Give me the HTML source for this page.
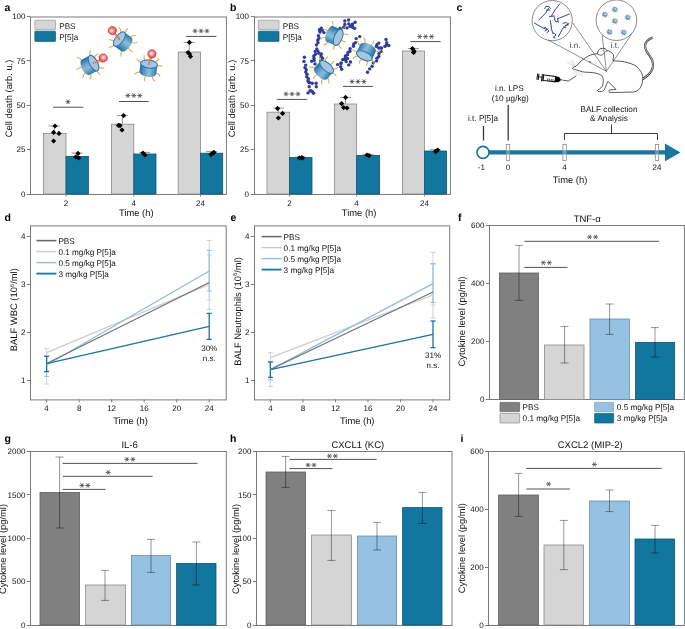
<!DOCTYPE html>
<html><head><meta charset="utf-8"><style>
html,body{margin:0;padding:0;background:#fff;}
svg{display:block;will-change:transform;}
text{font-family:"Liberation Sans",sans-serif;text-rendering:geometricPrecision;}
</style></head><body>
<svg width="685" height="629" viewBox="0 0 685 629">
<rect width="685" height="629" fill="#fff"/>
<defs>
<linearGradient id="cyl" x1="0" y1="0" x2="1" y2="0">
<stop offset="0" stop-color="#1f6fa3"/><stop offset="0.45" stop-color="#7fb0d3"/><stop offset="0.6" stop-color="#8db9d8"/><stop offset="1" stop-color="#2a7db0"/></linearGradient>
<radialGradient id="ball" cx="0.45" cy="0.45" r="0.6"><stop offset="0" stop-color="#fff"/><stop offset="0.35" stop-color="#f7a0a0"/><stop offset="1" stop-color="#e03a3a"/></radialGradient>
<g id="cylA">
<g stroke="#e9a237" stroke-width="1.0" fill="none" stroke-linecap="round">
<path d="M-8.3 -4.5 q-2.5 -0.5 -4.3 -2.6"/><path d="M-4.5 -7.3 q-1.8 -1.6 -1.6 -4.6"/><path d="M1.2 -8.2 q0.9 -2.2 0.3 -4.6"/><path d="M6 -7 q2.6 -1 3 -4"/><path d="M8.4 -3.2 q2.8 -1.2 4.6 -0.4"/>
<path d="M-8.6 5.2 q-2.6 0.4 -4 2.6"/><path d="M-2 9 q-0.9 2.2 -0.3 4.6"/><path d="M5 8.5 q1 2.6 3 3.6"/><path d="M8.6 3.8 q2.6 0.4 3.8 2.8"/>
</g>
<path d="M-8.5 -4 L-8.5 4.8 A8.5 4 0 0 0 8.5 4.8 L8.5 -4 Z" fill="url(#cyl)"/>
<ellipse cx="0" cy="-4" rx="8.5" ry="4" fill="#a9c5de" stroke="#1f78ad" stroke-width="1.0"/>
</g>
</defs><text x="4.6" y="11" font-size="10.5" text-anchor="start" font-weight="bold" fill="#000">a</text>
<text x="230" y="11" font-size="10.5" text-anchor="start" font-weight="bold" fill="#000">b</text>
<text x="456.4" y="11" font-size="10.5" text-anchor="start" font-weight="bold" fill="#000">c</text>
<text x="4.6" y="220.5" font-size="10.5" text-anchor="start" font-weight="bold" fill="#000">d</text>
<text x="230.5" y="220.5" font-size="10.5" text-anchor="start" font-weight="bold" fill="#000">e</text>
<text x="458" y="220.5" font-size="10.5" text-anchor="start" font-weight="bold" fill="#000">f</text>
<text x="4.6" y="442" font-size="10.5" text-anchor="start" font-weight="bold" fill="#000">g</text>
<text x="230" y="442" font-size="10.5" text-anchor="start" font-weight="bold" fill="#000">h</text>
<text x="460.5" y="442" font-size="10.5" text-anchor="start" font-weight="bold" fill="#000">i</text>
<rect x="30.5" y="17" width="195.9" height="177.5" fill="none" stroke="#7a7a7a" stroke-width="1"/>
<line x1="26.9" y1="16.5" x2="30.5" y2="16.5" stroke="#7a7a7a" stroke-width="1" />
<text x="25.5" y="19.35" font-size="8" text-anchor="end" fill="#111">100</text>
<line x1="26.9" y1="60.5" x2="30.5" y2="60.5" stroke="#7a7a7a" stroke-width="1" />
<text x="25.5" y="63.7" font-size="8" text-anchor="end" fill="#111">75</text>
<line x1="26.9" y1="105.5" x2="30.5" y2="105.5" stroke="#7a7a7a" stroke-width="1" />
<text x="25.5" y="108.05" font-size="8" text-anchor="end" fill="#111">50</text>
<line x1="26.9" y1="149.5" x2="30.5" y2="149.5" stroke="#7a7a7a" stroke-width="1" />
<text x="25.5" y="152.4" font-size="8" text-anchor="end" fill="#111">25</text>
<line x1="26.9" y1="194.5" x2="30.5" y2="194.5" stroke="#7a7a7a" stroke-width="1" />
<text x="25.5" y="196.75" font-size="8" text-anchor="end" fill="#111">0</text>
<rect x="43.5" y="133.4" width="22.5" height="60.6" fill="#d5d5d5" stroke="#8a8a8a" stroke-width="0.8"/>
<rect x="66" y="156.4" width="22.4" height="37.6" fill="#13769f" stroke="#0e5878" stroke-width="0.8"/>
<rect x="111.5" y="124.2" width="22.3" height="69.8" fill="#d5d5d5" stroke="#8a8a8a" stroke-width="0.8"/>
<rect x="133.8" y="154" width="22.2" height="40" fill="#13769f" stroke="#0e5878" stroke-width="0.8"/>
<rect x="178.2" y="52" width="22.3" height="142" fill="#d5d5d5" stroke="#8a8a8a" stroke-width="0.8"/>
<rect x="200.5" y="153.2" width="22.2" height="40.8" fill="#13769f" stroke="#0e5878" stroke-width="0.8"/>
<line x1="66" y1="194" x2="66" y2="196.5" stroke="#7a7a7a" stroke-width="1" />
<text x="66" y="206" font-size="8" text-anchor="middle" fill="#111">2</text>
<line x1="133.8" y1="194" x2="133.8" y2="196.5" stroke="#7a7a7a" stroke-width="1" />
<text x="133.8" y="206" font-size="8" text-anchor="middle" fill="#111">4</text>
<line x1="200.5" y1="194" x2="200.5" y2="196.5" stroke="#7a7a7a" stroke-width="1" />
<text x="200.5" y="206" font-size="8" text-anchor="middle" fill="#111">24</text>
<text x="136.3" y="216.2" font-size="9.4" text-anchor="middle" fill="#111">Time (h)</text>
<line x1="54.3" y1="126" x2="54.3" y2="133.4" stroke="#7a7a7a" stroke-width="0.8" />
<line x1="48.8" y1="126" x2="59.8" y2="126" stroke="#7a7a7a" stroke-width="0.8" />
<path d="M55 123.4L57.6 126L55 128.6L52.4 126Z" fill="#000"/>
<path d="M53.6 129.8L56.2 132.4L53.6 135L51 132.4Z" fill="#000"/>
<path d="M59 130.8L61.6 133.4L59 136L56.4 133.4Z" fill="#000"/>
<path d="M53.6 138.4L56.2 141L53.6 143.6L51 141Z" fill="#000"/>
<line x1="76.9" y1="153" x2="76.9" y2="156.4" stroke="#7a7a7a" stroke-width="0.8" />
<line x1="71.4" y1="153" x2="82.4" y2="153" stroke="#7a7a7a" stroke-width="0.8" />
<path d="M78 150.8L80.6 153.4L78 156L75.4 153.4Z" fill="#000"/>
<path d="M75.6 154.4L78.2 157L75.6 159.6L73 157Z" fill="#000"/>
<path d="M78.6 155.4L81.2 158L78.6 160.6L76 158Z" fill="#000"/>
<line x1="122.4" y1="115.6" x2="122.4" y2="124.2" stroke="#7a7a7a" stroke-width="0.8" />
<line x1="116.9" y1="115.6" x2="127.9" y2="115.6" stroke="#7a7a7a" stroke-width="0.8" />
<path d="M123.6 113L126.2 115.6L123.6 118.2L121 115.6Z" fill="#000"/>
<path d="M118.4 122.8L121 125.4L118.4 128L115.8 125.4Z" fill="#000"/>
<path d="M120 123L122.6 125.6L120 128.2L117.4 125.6Z" fill="#000"/>
<path d="M122 127.4L124.6 130L122 132.6L119.4 130Z" fill="#000"/>
<line x1="144.7" y1="152.4" x2="144.7" y2="154" stroke="#7a7a7a" stroke-width="0.8" />
<line x1="139.2" y1="152.4" x2="150.2" y2="152.4" stroke="#7a7a7a" stroke-width="0.8" />
<path d="M143 150.4L145.6 153L143 155.6L140.4 153Z" fill="#000"/>
<path d="M145 152.4L147.6 155L145 157.6L142.4 155Z" fill="#000"/>
<line x1="189.2" y1="42.4" x2="189.2" y2="52" stroke="#7a7a7a" stroke-width="0.8" />
<line x1="183.7" y1="42.4" x2="194.7" y2="42.4" stroke="#7a7a7a" stroke-width="0.8" />
<path d="M189.4 39.8L192 42.4L189.4 45L186.8 42.4Z" fill="#000"/>
<path d="M188 49.9L190.6 52.5L188 55.1L185.4 52.5Z" fill="#000"/>
<path d="M189.5 51.4L192.1 54L189.5 56.6L186.9 54Z" fill="#000"/>
<path d="M190.5 53.9L193.1 56.5L190.5 59.1L187.9 56.5Z" fill="#000"/>
<line x1="211.5" y1="151.6" x2="211.5" y2="153.2" stroke="#7a7a7a" stroke-width="0.8" />
<line x1="206" y1="151.6" x2="217" y2="151.6" stroke="#7a7a7a" stroke-width="0.8" />
<path d="M211 152L213.6 154.6L211 157.2L208.4 154.6Z" fill="#000"/>
<path d="M213 150.4L215.6 153L213 155.6L210.4 153Z" fill="#000"/>
<path d="M214 149.8L216.6 152.4L214 155L211.4 152.4Z" fill="#000"/>
<line x1="53" y1="107.2" x2="83.2" y2="107.2" stroke="#4a4a4a" stroke-width="0.95" />
<path d="M65.5 101.8L70.5 101.8M66.75 99.63L69.25 103.97M69.25 99.63L66.75 103.97" stroke="#4a4a4a" stroke-width="0.85" fill="none"/>
<line x1="119" y1="101.5" x2="148.6" y2="101.5" stroke="#4a4a4a" stroke-width="0.95" />
<path d="M125.35 95.6L130.35 95.6M126.6 93.43L129.1 97.77M129.1 93.43L126.6 97.77" stroke="#4a4a4a" stroke-width="0.85" fill="none"/>
<path d="M131.3 95.6L136.3 95.6M132.55 93.43L135.05 97.77M135.05 93.43L132.55 97.77" stroke="#4a4a4a" stroke-width="0.85" fill="none"/>
<path d="M137.25 95.6L142.25 95.6M138.5 93.43L141 97.77M141 93.43L138.5 97.77" stroke="#4a4a4a" stroke-width="0.85" fill="none"/>
<line x1="186" y1="36.4" x2="216.4" y2="36.4" stroke="#4a4a4a" stroke-width="0.95" />
<path d="M192.55 31L197.55 31M193.8 28.83L196.3 33.17M196.3 28.83L193.8 33.17" stroke="#4a4a4a" stroke-width="0.85" fill="none"/>
<path d="M198.5 31L203.5 31M199.75 28.83L202.25 33.17M202.25 28.83L199.75 33.17" stroke="#4a4a4a" stroke-width="0.85" fill="none"/>
<path d="M204.45 31L209.45 31M205.7 28.83L208.2 33.17M208.2 28.83L205.7 33.17" stroke="#4a4a4a" stroke-width="0.85" fill="none"/>
<rect x="34.8" y="20.2" width="20.7" height="9.5" fill="#d5d5d5" stroke="#999" stroke-width="0.7" rx="0.6"/>
<rect x="34.8" y="31.2" width="20.7" height="10.2" fill="#13769f" stroke="#0b5a7a" stroke-width="0.7" rx="0.6"/>
<text x="59.2" y="28.6" font-size="8.2" text-anchor="start" fill="#111">PBS</text>
<text x="59.2" y="39.7" font-size="8.2" text-anchor="start" fill="#111">P[5]a</text>
<text x="11.8" y="98.5" font-size="9.4" text-anchor="middle" fill="#111" transform="rotate(-90 11.8 98.5)">Cell death (arb. u.)</text>
<rect x="254.5" y="17" width="195.9" height="177.5" fill="none" stroke="#7a7a7a" stroke-width="1"/>
<line x1="250.9" y1="16.5" x2="254.5" y2="16.5" stroke="#7a7a7a" stroke-width="1" />
<text x="249" y="19.35" font-size="8" text-anchor="end" fill="#111">100</text>
<line x1="250.9" y1="60.5" x2="254.5" y2="60.5" stroke="#7a7a7a" stroke-width="1" />
<text x="249" y="63.7" font-size="8" text-anchor="end" fill="#111">75</text>
<line x1="250.9" y1="105.5" x2="254.5" y2="105.5" stroke="#7a7a7a" stroke-width="1" />
<text x="249" y="108.05" font-size="8" text-anchor="end" fill="#111">50</text>
<line x1="250.9" y1="149.5" x2="254.5" y2="149.5" stroke="#7a7a7a" stroke-width="1" />
<text x="249" y="152.4" font-size="8" text-anchor="end" fill="#111">25</text>
<line x1="250.9" y1="194.5" x2="254.5" y2="194.5" stroke="#7a7a7a" stroke-width="1" />
<text x="249" y="196.75" font-size="8" text-anchor="end" fill="#111">0</text>
<rect x="267" y="112.2" width="22.6" height="81.8" fill="#d5d5d5" stroke="#8a8a8a" stroke-width="0.8"/>
<rect x="289.6" y="157.4" width="22.4" height="36.6" fill="#13769f" stroke="#0e5878" stroke-width="0.8"/>
<rect x="334.4" y="104" width="22.2" height="90" fill="#d5d5d5" stroke="#8a8a8a" stroke-width="0.8"/>
<rect x="356.6" y="155.4" width="23" height="38.6" fill="#13769f" stroke="#0e5878" stroke-width="0.8"/>
<rect x="402.4" y="51" width="22" height="143" fill="#d5d5d5" stroke="#8a8a8a" stroke-width="0.8"/>
<rect x="424.4" y="151" width="22.2" height="43" fill="#13769f" stroke="#0e5878" stroke-width="0.8"/>
<line x1="289.6" y1="194" x2="289.6" y2="196.5" stroke="#7a7a7a" stroke-width="1" />
<text x="289.6" y="206" font-size="8" text-anchor="middle" fill="#111">2</text>
<line x1="356.6" y1="194" x2="356.6" y2="196.5" stroke="#7a7a7a" stroke-width="1" />
<text x="356.6" y="206" font-size="8" text-anchor="middle" fill="#111">4</text>
<line x1="424.4" y1="194" x2="424.4" y2="196.5" stroke="#7a7a7a" stroke-width="1" />
<text x="424.4" y="206" font-size="8" text-anchor="middle" fill="#111">24</text>
<text x="359.1" y="216.2" font-size="9.4" text-anchor="middle" fill="#111">Time (h)</text>
<line x1="278.3" y1="108" x2="278.3" y2="112.2" stroke="#7a7a7a" stroke-width="0.8" />
<line x1="272.8" y1="108" x2="283.8" y2="108" stroke="#7a7a7a" stroke-width="0.8" />
<path d="M277.6 105.8L280.2 108.4L277.6 111L275 108.4Z" fill="#000"/>
<path d="M282.6 110.8L285.2 113.4L282.6 116L280 113.4Z" fill="#000"/>
<path d="M278.4 115.4L281 118L278.4 120.6L275.8 118Z" fill="#000"/>
<line x1="300.8" y1="157" x2="300.8" y2="157.4" stroke="#7a7a7a" stroke-width="0.8" />
<line x1="295.3" y1="157" x2="306.3" y2="157" stroke="#7a7a7a" stroke-width="0.8" />
<path d="M299.4 155.4L302 158L299.4 160.6L296.8 158Z" fill="#000"/>
<path d="M301.6 155L304.2 157.6L301.6 160.2L299 157.6Z" fill="#000"/>
<path d="M302.6 155.4L305.2 158L302.6 160.6L300 158Z" fill="#000"/>
<line x1="345.5" y1="97.4" x2="345.5" y2="104" stroke="#7a7a7a" stroke-width="0.8" />
<line x1="340" y1="97.4" x2="351" y2="97.4" stroke="#7a7a7a" stroke-width="0.8" />
<path d="M345.6 94.8L348.2 97.4L345.6 100L343 97.4Z" fill="#000"/>
<path d="M341.6 101L344.2 103.6L341.6 106.2L339 103.6Z" fill="#000"/>
<path d="M343.6 105L346.2 107.6L343.6 110.2L341 107.6Z" fill="#000"/>
<path d="M347 105.4L349.6 108L347 110.6L344.4 108Z" fill="#000"/>
<line x1="368" y1="154.4" x2="368" y2="155.4" stroke="#7a7a7a" stroke-width="0.8" />
<line x1="362.5" y1="154.4" x2="373.5" y2="154.4" stroke="#7a7a7a" stroke-width="0.8" />
<path d="M367 152.4L369.6 155L367 157.6L364.4 155Z" fill="#000"/>
<path d="M369 153L371.6 155.6L369 158.2L366.4 155.6Z" fill="#000"/>
<line x1="413.4" y1="48.6" x2="413.4" y2="51" stroke="#7a7a7a" stroke-width="0.8" />
<line x1="407.9" y1="48.6" x2="418.9" y2="48.6" stroke="#7a7a7a" stroke-width="0.8" />
<path d="M412.4 46L415 48.6L412.4 51.2L409.8 48.6Z" fill="#000"/>
<path d="M414 48.4L416.6 51L414 53.6L411.4 51Z" fill="#000"/>
<path d="M413.6 49.8L416.2 52.4L413.6 55L411 52.4Z" fill="#000"/>
<line x1="435.5" y1="149.6" x2="435.5" y2="151" stroke="#7a7a7a" stroke-width="0.8" />
<line x1="430" y1="149.6" x2="441" y2="149.6" stroke="#7a7a7a" stroke-width="0.8" />
<path d="M435.6 149L438.2 151.6L435.6 154.2L433 151.6Z" fill="#000"/>
<path d="M437.6 147.4L440.2 150L437.6 152.6L435 150Z" fill="#000"/>
<path d="M436.4 148.4L439 151L436.4 153.6L433.8 151Z" fill="#000"/>
<line x1="277" y1="99.4" x2="307" y2="99.4" stroke="#4a4a4a" stroke-width="0.95" />
<path d="M283.55 94L288.55 94M284.8 91.83L287.3 96.17M287.3 91.83L284.8 96.17" stroke="#4a4a4a" stroke-width="0.85" fill="none"/>
<path d="M289.5 94L294.5 94M290.75 91.83L293.25 96.17M293.25 91.83L290.75 96.17" stroke="#4a4a4a" stroke-width="0.85" fill="none"/>
<path d="M295.45 94L300.45 94M296.7 91.83L299.2 96.17M299.2 91.83L296.7 96.17" stroke="#4a4a4a" stroke-width="0.85" fill="none"/>
<line x1="343" y1="86.4" x2="373" y2="86.4" stroke="#4a4a4a" stroke-width="0.95" />
<path d="M349.55 81.6L354.55 81.6M350.8 79.43L353.3 83.77M353.3 79.43L350.8 83.77" stroke="#4a4a4a" stroke-width="0.85" fill="none"/>
<path d="M355.5 81.6L360.5 81.6M356.75 79.43L359.25 83.77M359.25 79.43L356.75 83.77" stroke="#4a4a4a" stroke-width="0.85" fill="none"/>
<path d="M361.45 81.6L366.45 81.6M362.7 79.43L365.2 83.77M365.2 79.43L362.7 83.77" stroke="#4a4a4a" stroke-width="0.85" fill="none"/>
<line x1="410.4" y1="41.6" x2="440.6" y2="41.6" stroke="#4a4a4a" stroke-width="0.95" />
<path d="M417.15 36.6L422.15 36.6M418.4 34.43L420.9 38.77M420.9 34.43L418.4 38.77" stroke="#4a4a4a" stroke-width="0.85" fill="none"/>
<path d="M423.1 36.6L428.1 36.6M424.35 34.43L426.85 38.77M426.85 34.43L424.35 38.77" stroke="#4a4a4a" stroke-width="0.85" fill="none"/>
<path d="M429.05 36.6L434.05 36.6M430.3 34.43L432.8 38.77M432.8 34.43L430.3 38.77" stroke="#4a4a4a" stroke-width="0.85" fill="none"/>
<rect x="258.3" y="20.2" width="20.7" height="9.5" fill="#d5d5d5" stroke="#999" stroke-width="0.7" rx="0.6"/>
<rect x="258.3" y="31.2" width="20.7" height="10.2" fill="#13769f" stroke="#0b5a7a" stroke-width="0.7" rx="0.6"/>
<text x="282.7" y="28.6" font-size="8.2" text-anchor="start" fill="#111">PBS</text>
<text x="282.7" y="39.7" font-size="8.2" text-anchor="start" fill="#111">P[5]a</text>
<text x="235.3" y="98.5" font-size="9.4" text-anchor="middle" fill="#111" transform="rotate(-90 235.3 98.5)">Cell death (arb. u.)</text>
<rect x="30.5" y="225.9" width="195.7" height="174" fill="none" stroke="#7a7a7a" stroke-width="1"/>
<line x1="26.9" y1="236.5" x2="30.5" y2="236.5" stroke="#7a7a7a" stroke-width="1" />
<text x="25.4" y="238.75" font-size="8" text-anchor="end" fill="#111">4</text>
<line x1="26.9" y1="284.5" x2="30.5" y2="284.5" stroke="#7a7a7a" stroke-width="1" />
<text x="25.4" y="286.75" font-size="8" text-anchor="end" fill="#111">3</text>
<line x1="26.9" y1="332.5" x2="30.5" y2="332.5" stroke="#7a7a7a" stroke-width="1" />
<text x="25.4" y="334.75" font-size="8" text-anchor="end" fill="#111">2</text>
<line x1="26.9" y1="380.5" x2="30.5" y2="380.5" stroke="#7a7a7a" stroke-width="1" />
<text x="25.4" y="382.75" font-size="8" text-anchor="end" fill="#111">1</text>
<line x1="46.6" y1="399.4" x2="46.6" y2="402.4" stroke="#7a7a7a" stroke-width="1" />
<text x="46.6" y="411" font-size="8" text-anchor="middle" fill="#111">4</text>
<line x1="79.12" y1="399.4" x2="79.12" y2="402.4" stroke="#7a7a7a" stroke-width="1" />
<text x="79.12" y="411" font-size="8" text-anchor="middle" fill="#111">8</text>
<line x1="111.64" y1="399.4" x2="111.64" y2="402.4" stroke="#7a7a7a" stroke-width="1" />
<text x="111.64" y="411" font-size="8" text-anchor="middle" fill="#111">12</text>
<line x1="144.16" y1="399.4" x2="144.16" y2="402.4" stroke="#7a7a7a" stroke-width="1" />
<text x="144.16" y="411" font-size="8" text-anchor="middle" fill="#111">16</text>
<line x1="176.68" y1="399.4" x2="176.68" y2="402.4" stroke="#7a7a7a" stroke-width="1" />
<text x="176.68" y="411" font-size="8" text-anchor="middle" fill="#111">20</text>
<line x1="209.2" y1="399.4" x2="209.2" y2="402.4" stroke="#7a7a7a" stroke-width="1" />
<text x="209.2" y="411" font-size="8" text-anchor="middle" fill="#111">24</text>
<text x="130.5" y="423.8" font-size="9.4" text-anchor="middle" fill="#111">Time (h)</text>
<line x1="46.6" y1="348.6" x2="46.6" y2="384" stroke="#d0d0d0" stroke-width="1" />
<line x1="44.1" y1="348.6" x2="49.1" y2="348.6" stroke="#d0d0d0" stroke-width="1" />
<line x1="44.1" y1="384" x2="49.1" y2="384" stroke="#d0d0d0" stroke-width="1" />
<line x1="46.6" y1="356" x2="46.6" y2="376.4" stroke="#8cbfe4" stroke-width="1" />
<line x1="44.1" y1="356" x2="49.1" y2="356" stroke="#8cbfe4" stroke-width="1" />
<line x1="44.1" y1="376.4" x2="49.1" y2="376.4" stroke="#8cbfe4" stroke-width="1" />
<line x1="46.6" y1="356.4" x2="46.6" y2="371.6" stroke="#1a74a0" stroke-width="1.3" />
<line x1="44.1" y1="356.4" x2="49.1" y2="356.4" stroke="#1a74a0" stroke-width="1.3" />
<line x1="44.1" y1="371.6" x2="49.1" y2="371.6" stroke="#1a74a0" stroke-width="1.3" />
<line x1="209.2" y1="240.4" x2="209.2" y2="309.4" stroke="#d0d0d0" stroke-width="1" />
<line x1="206.7" y1="240.4" x2="211.7" y2="240.4" stroke="#d0d0d0" stroke-width="1" />
<line x1="206.7" y1="309.4" x2="211.7" y2="309.4" stroke="#d0d0d0" stroke-width="1" />
<line x1="209.2" y1="255" x2="209.2" y2="300" stroke="#d8d8d8" stroke-width="1" />
<line x1="206.7" y1="255" x2="211.7" y2="255" stroke="#d8d8d8" stroke-width="1" />
<line x1="206.7" y1="300" x2="211.7" y2="300" stroke="#d8d8d8" stroke-width="1" />
<line x1="209.2" y1="250.4" x2="209.2" y2="291" stroke="#8cbfe4" stroke-width="1" />
<line x1="206.7" y1="250.4" x2="211.7" y2="250.4" stroke="#8cbfe4" stroke-width="1" />
<line x1="206.7" y1="291" x2="211.7" y2="291" stroke="#8cbfe4" stroke-width="1" />
<line x1="209.2" y1="313.4" x2="209.2" y2="339.4" stroke="#1a74a0" stroke-width="1.3" />
<line x1="206.7" y1="313.4" x2="211.7" y2="313.4" stroke="#1a74a0" stroke-width="1.3" />
<line x1="206.7" y1="339.4" x2="211.7" y2="339.4" stroke="#1a74a0" stroke-width="1.3" />
<line x1="46.6" y1="352.6" x2="209.2" y2="284.4" stroke="#cccccc" stroke-width="1.25" />
<line x1="46.6" y1="365" x2="209.2" y2="271" stroke="#8cbfe4" stroke-width="1.25" />
<line x1="46.6" y1="363.6" x2="209.2" y2="282.4" stroke="#707070" stroke-width="1.15" />
<line x1="46.6" y1="363.6" x2="209.2" y2="326.4" stroke="#1a74a0" stroke-width="1.3" />
<line x1="36.4" y1="240.6" x2="56.4" y2="240.6" stroke="#6b6b6b" stroke-width="1.6" />
<text x="58.4" y="243.5" font-size="8.2" text-anchor="start" fill="#111">PBS</text>
<line x1="36.4" y1="251.6" x2="56.4" y2="251.6" stroke="#cccccc" stroke-width="1.4" />
<text x="58.4" y="254.5" font-size="8.2" text-anchor="start" fill="#111">0.1 mg/kg P[5]a</text>
<line x1="36.4" y1="262.6" x2="56.4" y2="262.6" stroke="#8cbfe4" stroke-width="1.4" />
<text x="58.4" y="265.5" font-size="8.2" text-anchor="start" fill="#111">0.5 mg/kg P[5]a</text>
<line x1="36.4" y1="273.6" x2="56.4" y2="273.6" stroke="#1a74a0" stroke-width="1.8" />
<text x="58.4" y="276.5" font-size="8.2" text-anchor="start" fill="#111">3 mg/kg P[5]a</text>
<text x="209.2" y="351.4" font-size="8" text-anchor="middle" fill="#111">30%</text>
<text x="209.2" y="360.9" font-size="8" text-anchor="middle" fill="#111">n.s.</text>
<text x="17.3" y="309.7" font-size="9.4" text-anchor="middle" fill="#111" transform="rotate(-90 17.3 309.7)">BALF WBC (10<tspan font-size="6" dy="-3.2">6</tspan><tspan dy="3.2">/ml)</tspan></text>
<rect x="254.5" y="225.9" width="195.2" height="174" fill="none" stroke="#7a7a7a" stroke-width="1"/>
<line x1="250.9" y1="236.5" x2="254.5" y2="236.5" stroke="#7a7a7a" stroke-width="1" />
<text x="249.4" y="238.75" font-size="8" text-anchor="end" fill="#111">4</text>
<line x1="250.9" y1="284.5" x2="254.5" y2="284.5" stroke="#7a7a7a" stroke-width="1" />
<text x="249.4" y="286.75" font-size="8" text-anchor="end" fill="#111">3</text>
<line x1="250.9" y1="332.5" x2="254.5" y2="332.5" stroke="#7a7a7a" stroke-width="1" />
<text x="249.4" y="334.75" font-size="8" text-anchor="end" fill="#111">2</text>
<line x1="250.9" y1="380.5" x2="254.5" y2="380.5" stroke="#7a7a7a" stroke-width="1" />
<text x="249.4" y="382.75" font-size="8" text-anchor="end" fill="#111">1</text>
<line x1="270.4" y1="399.4" x2="270.4" y2="402.4" stroke="#7a7a7a" stroke-width="1" />
<text x="270.4" y="411" font-size="8" text-anchor="middle" fill="#111">4</text>
<line x1="302.92" y1="399.4" x2="302.92" y2="402.4" stroke="#7a7a7a" stroke-width="1" />
<text x="302.92" y="411" font-size="8" text-anchor="middle" fill="#111">8</text>
<line x1="335.44" y1="399.4" x2="335.44" y2="402.4" stroke="#7a7a7a" stroke-width="1" />
<text x="335.44" y="411" font-size="8" text-anchor="middle" fill="#111">12</text>
<line x1="367.96" y1="399.4" x2="367.96" y2="402.4" stroke="#7a7a7a" stroke-width="1" />
<text x="367.96" y="411" font-size="8" text-anchor="middle" fill="#111">16</text>
<line x1="400.48" y1="399.4" x2="400.48" y2="402.4" stroke="#7a7a7a" stroke-width="1" />
<text x="400.48" y="411" font-size="8" text-anchor="middle" fill="#111">20</text>
<line x1="433" y1="399.4" x2="433" y2="402.4" stroke="#7a7a7a" stroke-width="1" />
<text x="433" y="411" font-size="8" text-anchor="middle" fill="#111">24</text>
<text x="357.2" y="423.8" font-size="9.4" text-anchor="middle" fill="#111">Time (h)</text>
<line x1="270.4" y1="352.6" x2="270.4" y2="386.6" stroke="#d0d0d0" stroke-width="1" />
<line x1="267.9" y1="352.6" x2="272.9" y2="352.6" stroke="#d0d0d0" stroke-width="1" />
<line x1="267.9" y1="386.6" x2="272.9" y2="386.6" stroke="#d0d0d0" stroke-width="1" />
<line x1="270.4" y1="362" x2="270.4" y2="380" stroke="#8cbfe4" stroke-width="1" />
<line x1="267.9" y1="362" x2="272.9" y2="362" stroke="#8cbfe4" stroke-width="1" />
<line x1="267.9" y1="380" x2="272.9" y2="380" stroke="#8cbfe4" stroke-width="1" />
<line x1="270.4" y1="362" x2="270.4" y2="377.4" stroke="#1a74a0" stroke-width="1.3" />
<line x1="267.9" y1="362" x2="272.9" y2="362" stroke="#1a74a0" stroke-width="1.3" />
<line x1="267.9" y1="377.4" x2="272.9" y2="377.4" stroke="#1a74a0" stroke-width="1.3" />
<line x1="433" y1="252.4" x2="433" y2="318" stroke="#d0d0d0" stroke-width="1" />
<line x1="430.5" y1="252.4" x2="435.5" y2="252.4" stroke="#d0d0d0" stroke-width="1" />
<line x1="430.5" y1="318" x2="435.5" y2="318" stroke="#d0d0d0" stroke-width="1" />
<line x1="433" y1="264.4" x2="433" y2="305" stroke="#d8d8d8" stroke-width="1" />
<line x1="430.5" y1="264.4" x2="435.5" y2="264.4" stroke="#d8d8d8" stroke-width="1" />
<line x1="430.5" y1="305" x2="435.5" y2="305" stroke="#d8d8d8" stroke-width="1" />
<line x1="433" y1="263.6" x2="433" y2="302.4" stroke="#8cbfe4" stroke-width="1" />
<line x1="430.5" y1="263.6" x2="435.5" y2="263.6" stroke="#8cbfe4" stroke-width="1" />
<line x1="430.5" y1="302.4" x2="435.5" y2="302.4" stroke="#8cbfe4" stroke-width="1" />
<line x1="433" y1="321" x2="433" y2="347.6" stroke="#1a74a0" stroke-width="1.3" />
<line x1="430.5" y1="321" x2="435.5" y2="321" stroke="#1a74a0" stroke-width="1.3" />
<line x1="430.5" y1="347.6" x2="435.5" y2="347.6" stroke="#1a74a0" stroke-width="1.3" />
<line x1="270.4" y1="357.6" x2="433" y2="295" stroke="#cccccc" stroke-width="1.25" />
<line x1="270.4" y1="369.6" x2="433" y2="283.6" stroke="#8cbfe4" stroke-width="1.25" />
<line x1="270.4" y1="369.6" x2="433" y2="292" stroke="#707070" stroke-width="1.15" />
<line x1="270.4" y1="369.6" x2="433" y2="334.4" stroke="#1a74a0" stroke-width="1.3" />
<line x1="261.6" y1="236.6" x2="281.6" y2="236.6" stroke="#6b6b6b" stroke-width="1.6" />
<text x="283.6" y="239.5" font-size="8.2" text-anchor="start" fill="#111">PBS</text>
<line x1="261.6" y1="247.6" x2="281.6" y2="247.6" stroke="#cccccc" stroke-width="1.4" />
<text x="283.6" y="250.5" font-size="8.2" text-anchor="start" fill="#111">0.1 mg/kg P[5]a</text>
<line x1="261.6" y1="258.6" x2="281.6" y2="258.6" stroke="#8cbfe4" stroke-width="1.4" />
<text x="283.6" y="261.5" font-size="8.2" text-anchor="start" fill="#111">0.5 mg/kg P[5]a</text>
<line x1="261.6" y1="269.6" x2="281.6" y2="269.6" stroke="#1a74a0" stroke-width="1.8" />
<text x="283.6" y="272.5" font-size="8.2" text-anchor="start" fill="#111">3 mg/kg P[5]a</text>
<text x="433" y="358.4" font-size="8" text-anchor="middle" fill="#111">31%</text>
<text x="433" y="367.9" font-size="8" text-anchor="middle" fill="#111">n.s.</text>
<text x="240.6" y="311.4" font-size="9.4" text-anchor="middle" fill="#111" transform="rotate(-90 240.6 311.4)">BALF Neutrophils (10<tspan font-size="6" dy="-3.2">6</tspan><tspan dy="3.2">/ml)</tspan></text>
<rect x="489.5" y="225.5" width="194.9" height="174" fill="none" stroke="#7a7a7a" stroke-width="1"/>
<line x1="485.9" y1="225.5" x2="489.5" y2="225.5" stroke="#7a7a7a" stroke-width="1" />
<text x="484.4" y="228.15" font-size="8" text-anchor="end" fill="#111">600</text>
<line x1="485.9" y1="283.5" x2="489.5" y2="283.5" stroke="#7a7a7a" stroke-width="1" />
<text x="484.4" y="286.15" font-size="8" text-anchor="end" fill="#111">400</text>
<line x1="485.9" y1="341.5" x2="489.5" y2="341.5" stroke="#7a7a7a" stroke-width="1" />
<text x="484.4" y="344.15" font-size="8" text-anchor="end" fill="#111">200</text>
<line x1="485.9" y1="399.5" x2="489.5" y2="399.5" stroke="#7a7a7a" stroke-width="1" />
<text x="484.4" y="402.15" font-size="8" text-anchor="end" fill="#111">0</text>
<rect x="499.4" y="273" width="39" height="126.4" fill="#808080" stroke="#5f5f5f" stroke-width="0.8"/>
<rect x="544.4" y="345" width="39.6" height="54.4" fill="#d5d5d5" stroke="#8a8a8a" stroke-width="0.8"/>
<rect x="590" y="319" width="39.4" height="80.4" fill="#95c2e2" stroke="#6f8ea3" stroke-width="0.8"/>
<rect x="635.4" y="342.4" width="39.2" height="57" fill="#13769f" stroke="#0d5878" stroke-width="0.8"/>
<line x1="519" y1="245.4" x2="519" y2="300.4" stroke="rgba(0,0,0,0.52)" stroke-width="0.8" />
<line x1="515" y1="245.4" x2="523" y2="245.4" stroke="rgba(0,0,0,0.52)" stroke-width="0.8" />
<line x1="515" y1="300.4" x2="523" y2="300.4" stroke="rgba(0,0,0,0.52)" stroke-width="0.8" />
<line x1="564.6" y1="326.4" x2="564.6" y2="363" stroke="rgba(0,0,0,0.52)" stroke-width="0.8" />
<line x1="560.6" y1="326.4" x2="568.6" y2="326.4" stroke="rgba(0,0,0,0.52)" stroke-width="0.8" />
<line x1="560.6" y1="363" x2="568.6" y2="363" stroke="rgba(0,0,0,0.52)" stroke-width="0.8" />
<line x1="609.6" y1="304" x2="609.6" y2="334.4" stroke="rgba(0,0,0,0.52)" stroke-width="0.8" />
<line x1="605.6" y1="304" x2="613.6" y2="304" stroke="rgba(0,0,0,0.52)" stroke-width="0.8" />
<line x1="605.6" y1="334.4" x2="613.6" y2="334.4" stroke="rgba(0,0,0,0.52)" stroke-width="0.8" />
<line x1="655" y1="327.6" x2="655" y2="357" stroke="rgba(0,0,0,0.52)" stroke-width="0.8" />
<line x1="651" y1="327.6" x2="659" y2="327.6" stroke="rgba(0,0,0,0.52)" stroke-width="0.8" />
<line x1="651" y1="357" x2="659" y2="357" stroke="rgba(0,0,0,0.52)" stroke-width="0.8" />
<line x1="524.4" y1="267.4" x2="567.6" y2="267.4" stroke="#4a4a4a" stroke-width="0.95" />
<path d="M540.92 262.7L545.92 262.7M542.17 260.53L544.67 264.87M544.67 260.53L542.17 264.87" stroke="#4a4a4a" stroke-width="0.85" fill="none"/>
<path d="M546.88 262.7L551.88 262.7M548.12 260.53L550.62 264.87M550.62 260.53L548.12 264.87" stroke="#4a4a4a" stroke-width="0.85" fill="none"/>
<line x1="524.4" y1="241.3" x2="659" y2="241.3" stroke="#4a4a4a" stroke-width="0.95" />
<path d="M587.12 237L592.12 237M588.38 234.83L590.88 239.17M590.88 234.83L588.38 239.17" stroke="#4a4a4a" stroke-width="0.85" fill="none"/>
<path d="M593.08 237L598.08 237M594.33 234.83L596.83 239.17M596.83 234.83L594.33 239.17" stroke="#4a4a4a" stroke-width="0.85" fill="none"/>
<text x="587.2" y="222.1" font-size="9.5" text-anchor="middle" fill="#111">TNF-α</text>
<text x="465" y="321.5" font-size="9.4" text-anchor="middle" fill="#111" transform="rotate(-90 465 321.5)">Cytokine level (pg/ml)</text>
<rect x="500" y="402.4" width="19.6" height="9.2" fill="#808080" stroke="#5f5f5f" stroke-width="0.7" rx="0.4"/>
<rect x="500" y="413.4" width="19.6" height="9.6" fill="#d5d5d5" stroke="#8a8a8a" stroke-width="0.7" rx="0.4"/>
<rect x="594.6" y="402.4" width="19" height="9.2" fill="#95c2e2" stroke="#8a9aa6" stroke-width="0.7" rx="0.4"/>
<rect x="594.6" y="413.4" width="19" height="9.6" fill="#13769f" stroke="#0d5878" stroke-width="0.7" rx="0.4"/>
<text x="522.6" y="410.3" font-size="8.2" text-anchor="start" fill="#111">PBS</text>
<text x="522.6" y="421.3" font-size="8.2" text-anchor="start" fill="#111">0.1 mg/kg P[5]a</text>
<text x="616.8" y="410.3" font-size="8.2" text-anchor="start" fill="#111">0.5 mg/kg P[5]a</text>
<text x="616.8" y="421.3" font-size="8.2" text-anchor="start" fill="#111">3 mg/kg P[5]a</text>
<rect x="30.5" y="451.5" width="195.8" height="174" fill="none" stroke="#7a7a7a" stroke-width="1"/>
<line x1="26.9" y1="451.5" x2="30.5" y2="451.5" stroke="#7a7a7a" stroke-width="1" />
<text x="25.4" y="454.15" font-size="8" text-anchor="end" fill="#111">2000</text>
<line x1="26.9" y1="494.5" x2="30.5" y2="494.5" stroke="#7a7a7a" stroke-width="1" />
<text x="25.4" y="497.55" font-size="8" text-anchor="end" fill="#111">1500</text>
<line x1="26.9" y1="538.5" x2="30.5" y2="538.5" stroke="#7a7a7a" stroke-width="1" />
<text x="25.4" y="540.95" font-size="8" text-anchor="end" fill="#111">1000</text>
<line x1="26.9" y1="581.5" x2="30.5" y2="581.5" stroke="#7a7a7a" stroke-width="1" />
<text x="25.4" y="584.35" font-size="8" text-anchor="end" fill="#111">500</text>
<line x1="26.9" y1="625.5" x2="30.5" y2="625.5" stroke="#7a7a7a" stroke-width="1" />
<text x="25.4" y="627.75" font-size="8" text-anchor="end" fill="#111">0</text>
<rect x="40" y="492.4" width="39.6" height="132.6" fill="#808080" stroke="#5f5f5f" stroke-width="0.8"/>
<rect x="85.6" y="585" width="39.8" height="40" fill="#d5d5d5" stroke="#8a8a8a" stroke-width="0.8"/>
<rect x="131.4" y="555.6" width="39.2" height="69.4" fill="#95c2e2" stroke="#6f8ea3" stroke-width="0.8"/>
<rect x="176.6" y="563.4" width="39.4" height="61.6" fill="#13769f" stroke="#0d5878" stroke-width="0.8"/>
<line x1="59.6" y1="457" x2="59.6" y2="528" stroke="rgba(0,0,0,0.52)" stroke-width="0.8" />
<line x1="55.6" y1="457" x2="63.6" y2="457" stroke="rgba(0,0,0,0.52)" stroke-width="0.8" />
<line x1="55.6" y1="528" x2="63.6" y2="528" stroke="rgba(0,0,0,0.52)" stroke-width="0.8" />
<line x1="105" y1="570.4" x2="105" y2="600.4" stroke="rgba(0,0,0,0.52)" stroke-width="0.8" />
<line x1="101" y1="570.4" x2="109" y2="570.4" stroke="rgba(0,0,0,0.52)" stroke-width="0.8" />
<line x1="101" y1="600.4" x2="109" y2="600.4" stroke="rgba(0,0,0,0.52)" stroke-width="0.8" />
<line x1="151" y1="539.4" x2="151" y2="572.4" stroke="rgba(0,0,0,0.52)" stroke-width="0.8" />
<line x1="147" y1="539.4" x2="155" y2="539.4" stroke="rgba(0,0,0,0.52)" stroke-width="0.8" />
<line x1="147" y1="572.4" x2="155" y2="572.4" stroke="rgba(0,0,0,0.52)" stroke-width="0.8" />
<line x1="196.4" y1="542" x2="196.4" y2="585" stroke="rgba(0,0,0,0.52)" stroke-width="0.8" />
<line x1="192.4" y1="542" x2="200.4" y2="542" stroke="rgba(0,0,0,0.52)" stroke-width="0.8" />
<line x1="192.4" y1="585" x2="200.4" y2="585" stroke="rgba(0,0,0,0.52)" stroke-width="0.8" />
<line x1="62.6" y1="489.4" x2="105.6" y2="489.4" stroke="#4a4a4a" stroke-width="0.95" />
<path d="M79.43 485.4L84.43 485.4M80.68 483.23L83.18 487.57M83.18 483.23L80.68 487.57" stroke="#4a4a4a" stroke-width="0.85" fill="none"/>
<path d="M85.38 485.4L90.38 485.4M86.62 483.23L89.12 487.57M89.12 483.23L86.62 487.57" stroke="#4a4a4a" stroke-width="0.85" fill="none"/>
<line x1="62.6" y1="476.3" x2="152.6" y2="476.3" stroke="#4a4a4a" stroke-width="0.95" />
<path d="M105.7 472.4L110.7 472.4M106.95 470.23L109.45 474.57M109.45 470.23L106.95 474.57" stroke="#4a4a4a" stroke-width="0.85" fill="none"/>
<line x1="62.6" y1="463.4" x2="197.6" y2="463.4" stroke="#4a4a4a" stroke-width="0.95" />
<path d="M124.43 459.3L129.43 459.3M125.68 457.13L128.18 461.47M128.18 457.13L125.68 461.47" stroke="#4a4a4a" stroke-width="0.85" fill="none"/>
<path d="M130.38 459.3L135.38 459.3M131.62 457.13L134.12 461.47M134.12 457.13L131.62 461.47" stroke="#4a4a4a" stroke-width="0.85" fill="none"/>
<text x="129.6" y="447.7" font-size="9.5" text-anchor="middle" fill="#111">IL-6</text>
<text x="6.4" y="549" font-size="9.4" text-anchor="middle" fill="#111" transform="rotate(-90 6.4 549)">Cytokine level (pg/ml)</text>
<rect x="256.5" y="451.5" width="195.5" height="174" fill="none" stroke="#7a7a7a" stroke-width="1"/>
<line x1="252.9" y1="451.5" x2="256.5" y2="451.5" stroke="#7a7a7a" stroke-width="1" />
<text x="251.4" y="454.15" font-size="8" text-anchor="end" fill="#111">200</text>
<line x1="252.9" y1="494.5" x2="256.5" y2="494.5" stroke="#7a7a7a" stroke-width="1" />
<text x="251.4" y="497.55" font-size="8" text-anchor="end" fill="#111">150</text>
<line x1="252.9" y1="538.5" x2="256.5" y2="538.5" stroke="#7a7a7a" stroke-width="1" />
<text x="251.4" y="540.95" font-size="8" text-anchor="end" fill="#111">100</text>
<line x1="252.9" y1="581.5" x2="256.5" y2="581.5" stroke="#7a7a7a" stroke-width="1" />
<text x="251.4" y="584.35" font-size="8" text-anchor="end" fill="#111">50</text>
<line x1="252.9" y1="625.5" x2="256.5" y2="625.5" stroke="#7a7a7a" stroke-width="1" />
<text x="251.4" y="627.75" font-size="8" text-anchor="end" fill="#111">0</text>
<rect x="266" y="472" width="39.6" height="153" fill="#808080" stroke="#5f5f5f" stroke-width="0.8"/>
<rect x="311.6" y="535" width="39.8" height="90" fill="#d5d5d5" stroke="#8a8a8a" stroke-width="0.8"/>
<rect x="357.4" y="536" width="39.2" height="89" fill="#95c2e2" stroke="#6f8ea3" stroke-width="0.8"/>
<rect x="402.6" y="507.6" width="39.4" height="117.4" fill="#13769f" stroke="#0d5878" stroke-width="0.8"/>
<line x1="285.6" y1="456.4" x2="285.6" y2="487.4" stroke="rgba(0,0,0,0.52)" stroke-width="0.8" />
<line x1="281.6" y1="456.4" x2="289.6" y2="456.4" stroke="rgba(0,0,0,0.52)" stroke-width="0.8" />
<line x1="281.6" y1="487.4" x2="289.6" y2="487.4" stroke="rgba(0,0,0,0.52)" stroke-width="0.8" />
<line x1="331.4" y1="510.4" x2="331.4" y2="560.4" stroke="rgba(0,0,0,0.52)" stroke-width="0.8" />
<line x1="327.4" y1="510.4" x2="335.4" y2="510.4" stroke="rgba(0,0,0,0.52)" stroke-width="0.8" />
<line x1="327.4" y1="560.4" x2="335.4" y2="560.4" stroke="rgba(0,0,0,0.52)" stroke-width="0.8" />
<line x1="377" y1="522.4" x2="377" y2="550" stroke="rgba(0,0,0,0.52)" stroke-width="0.8" />
<line x1="373" y1="522.4" x2="381" y2="522.4" stroke="rgba(0,0,0,0.52)" stroke-width="0.8" />
<line x1="373" y1="550" x2="381" y2="550" stroke="rgba(0,0,0,0.52)" stroke-width="0.8" />
<line x1="422.4" y1="492.4" x2="422.4" y2="523.4" stroke="rgba(0,0,0,0.52)" stroke-width="0.8" />
<line x1="418.4" y1="492.4" x2="426.4" y2="492.4" stroke="rgba(0,0,0,0.52)" stroke-width="0.8" />
<line x1="418.4" y1="523.4" x2="426.4" y2="523.4" stroke="rgba(0,0,0,0.52)" stroke-width="0.8" />
<line x1="289.4" y1="468.6" x2="332.4" y2="468.6" stroke="#4a4a4a" stroke-width="0.95" />
<path d="M305.52 465L310.52 465M306.77 462.83L309.27 467.17M309.27 462.83L306.77 467.17" stroke="#4a4a4a" stroke-width="0.85" fill="none"/>
<path d="M311.48 465L316.48 465M312.73 462.83L315.23 467.17M315.23 462.83L312.73 467.17" stroke="#4a4a4a" stroke-width="0.85" fill="none"/>
<line x1="289.4" y1="459.4" x2="376.6" y2="459.4" stroke="#4a4a4a" stroke-width="0.95" />
<path d="M326.92 456L331.92 456M328.17 453.83L330.67 458.17M330.67 453.83L328.17 458.17" stroke="#4a4a4a" stroke-width="0.85" fill="none"/>
<path d="M332.88 456L337.88 456M334.12 453.83L336.62 458.17M336.62 453.83L334.12 458.17" stroke="#4a4a4a" stroke-width="0.85" fill="none"/>
<text x="357.8" y="447.7" font-size="9.5" text-anchor="middle" fill="#111">CXCL1 (KC)</text>
<text x="239" y="549" font-size="9.4" text-anchor="middle" fill="#111" transform="rotate(-90 239 549)">Cytokine level (pg/ml)</text>
<rect x="488.5" y="451.5" width="195.9" height="174" fill="none" stroke="#7a7a7a" stroke-width="1"/>
<line x1="484.9" y1="451.5" x2="488.5" y2="451.5" stroke="#7a7a7a" stroke-width="1" />
<text x="483.6" y="453.75" font-size="8" text-anchor="end" fill="#111">600</text>
<line x1="484.9" y1="509.5" x2="488.5" y2="509.5" stroke="#7a7a7a" stroke-width="1" />
<text x="483.6" y="511.75" font-size="8" text-anchor="end" fill="#111">400</text>
<line x1="484.9" y1="567.5" x2="488.5" y2="567.5" stroke="#7a7a7a" stroke-width="1" />
<text x="483.6" y="569.75" font-size="8" text-anchor="end" fill="#111">200</text>
<line x1="484.9" y1="625.5" x2="488.5" y2="625.5" stroke="#7a7a7a" stroke-width="1" />
<text x="483.6" y="627.75" font-size="8" text-anchor="end" fill="#111">0</text>
<rect x="498.6" y="495" width="39.8" height="130" fill="#808080" stroke="#5f5f5f" stroke-width="0.8"/>
<rect x="544" y="545" width="39.4" height="80" fill="#d5d5d5" stroke="#8a8a8a" stroke-width="0.8"/>
<rect x="589.4" y="501" width="40" height="124" fill="#95c2e2" stroke="#6f8ea3" stroke-width="0.8"/>
<rect x="635" y="539" width="39.6" height="86" fill="#13769f" stroke="#0d5878" stroke-width="0.8"/>
<line x1="518.6" y1="473.4" x2="518.6" y2="516.4" stroke="rgba(0,0,0,0.52)" stroke-width="0.8" />
<line x1="514.6" y1="473.4" x2="522.6" y2="473.4" stroke="rgba(0,0,0,0.52)" stroke-width="0.8" />
<line x1="514.6" y1="516.4" x2="522.6" y2="516.4" stroke="rgba(0,0,0,0.52)" stroke-width="0.8" />
<line x1="563.8" y1="520.4" x2="563.8" y2="569.6" stroke="rgba(0,0,0,0.52)" stroke-width="0.8" />
<line x1="559.8" y1="520.4" x2="567.8" y2="520.4" stroke="rgba(0,0,0,0.52)" stroke-width="0.8" />
<line x1="559.8" y1="569.6" x2="567.8" y2="569.6" stroke="rgba(0,0,0,0.52)" stroke-width="0.8" />
<line x1="609.5" y1="490" x2="609.5" y2="511.6" stroke="rgba(0,0,0,0.52)" stroke-width="0.8" />
<line x1="605.5" y1="490" x2="613.5" y2="490" stroke="rgba(0,0,0,0.52)" stroke-width="0.8" />
<line x1="605.5" y1="511.6" x2="613.5" y2="511.6" stroke="rgba(0,0,0,0.52)" stroke-width="0.8" />
<line x1="655" y1="525.4" x2="655" y2="553" stroke="rgba(0,0,0,0.52)" stroke-width="0.8" />
<line x1="651" y1="525.4" x2="659" y2="525.4" stroke="rgba(0,0,0,0.52)" stroke-width="0.8" />
<line x1="651" y1="553" x2="659" y2="553" stroke="rgba(0,0,0,0.52)" stroke-width="0.8" />
<line x1="526.4" y1="489" x2="570" y2="489" stroke="#4a4a4a" stroke-width="0.95" />
<path d="M546.1 484L551.1 484M547.35 481.83L549.85 486.17M549.85 481.83L547.35 486.17" stroke="#4a4a4a" stroke-width="0.85" fill="none"/>
<line x1="526.4" y1="468.4" x2="661.6" y2="468.4" stroke="#4a4a4a" stroke-width="0.95" />
<path d="M591.9 464.4L596.9 464.4M593.15 462.23L595.65 466.57M595.65 462.23L593.15 466.57" stroke="#4a4a4a" stroke-width="0.85" fill="none"/>
<text x="590.2" y="447.7" font-size="9.5" text-anchor="middle" fill="#111">CXCL2 (MIP-2)</text>
<text x="465.5" y="548.2" font-size="9.4" text-anchor="middle" fill="#111" transform="rotate(-90 465.5 548.2)">Cytokine level (pg/ml)</text>
<line x1="489" y1="152.4" x2="667" y2="152.4" stroke="#1a75a0" stroke-width="4.2" />
<path d="M665 143.6L680.5 152.4L665 161.2Z" fill="#1a75a0"/>
<circle cx="483" cy="152.4" r="6" fill="#fff" stroke="#1a75a0" stroke-width="1.6"/>
<rect x="506.3" y="144.4" width="3.4" height="16" fill="rgba(255,255,255,0.3)" stroke="#8a8a8a" stroke-width="0.8"/>
<rect x="562.9" y="144.4" width="3.4" height="16" fill="rgba(255,255,255,0.3)" stroke="#8a8a8a" stroke-width="0.8"/>
<rect x="655.3" y="144.4" width="3.4" height="16" fill="rgba(255,255,255,0.3)" stroke="#8a8a8a" stroke-width="0.8"/>
<text x="481.4" y="170" font-size="8" text-anchor="middle" fill="#111">-1</text>
<text x="508" y="170" font-size="8" text-anchor="middle" fill="#111">0</text>
<text x="564.6" y="170" font-size="8" text-anchor="middle" fill="#111">4</text>
<text x="657" y="170" font-size="8" text-anchor="middle" fill="#111">24</text>
<text x="570" y="183.3" font-size="9.4" text-anchor="middle" fill="#111">Time (h)</text>
<line x1="483.5" y1="126" x2="483.5" y2="140.5" stroke="#333" stroke-width="1.25" />
<line x1="508.2" y1="105" x2="508.2" y2="140.5" stroke="#333" stroke-width="1.25" />
<polyline points="564.5,140 564.5,133.5 657.5,133.5 657.5,140" fill="none" stroke="#3a3a3a" stroke-width="1"/>
<line x1="611.5" y1="124.4" x2="611.5" y2="133.5" stroke="#3a3a3a" stroke-width="1" />
<text x="483" y="120.8" font-size="8.2" text-anchor="middle" fill="#111">i.t. P[5]a</text>
<text x="509.3" y="90.5" font-size="8.2" text-anchor="middle" fill="#111">i.n. LPS</text>
<text x="510.3" y="100.5" font-size="8.2" text-anchor="middle" fill="#111">(10 µg/kg)</text>
<text x="609" y="111.8" font-size="8.2" text-anchor="middle" fill="#111">BALF collection</text>
<text x="609" y="121.4" font-size="8.2" text-anchor="middle" fill="#111">&amp; Analysis</text><g transform="translate(122.6 41.5) rotate(-53) scale(1.0)"><use href="#cylA"/><path d="M0 -4 L2.5 -14.8" stroke="#d9534f" stroke-width="1.6" stroke-linecap="round"/><path d="M0 -4 L2.5 -14.8" stroke="#f3c0a0" stroke-width="0.5"/><circle cx="2.5" cy="-14.8" r="4.1" fill="url(#ball)" stroke="#b83838" stroke-width="0.6"/></g><g transform="translate(90 65) rotate(62) scale(1.0)"><use href="#cylA"/><path d="M0 -4 L0 -15" stroke="#d9534f" stroke-width="1.6" stroke-linecap="round"/><path d="M0 -4 L0 -15" stroke="#f3c0a0" stroke-width="0.5"/><circle cx="0" cy="-15" r="4.1" fill="url(#ball)" stroke="#b83838" stroke-width="0.6"/></g><g transform="translate(148.5 68) rotate(8) scale(1.0)"><use href="#cylA"/><path d="M0 -4 L1.4 -14.5" stroke="#d9534f" stroke-width="1.6" stroke-linecap="round"/><path d="M0 -4 L1.4 -14.5" stroke="#f3c0a0" stroke-width="0.5"/><circle cx="1.4" cy="-14.5" r="4.1" fill="url(#ball)" stroke="#b83838" stroke-width="0.6"/></g><circle cx="321.3" cy="28.2" r="1.7" fill="#2f3c9c"/><circle cx="319.7" cy="29.8" r="1.7" fill="#2f3c9c"/><circle cx="320.0" cy="32.1" r="1.7" fill="#2f3c9c"/><circle cx="318.4" cy="35.8" r="1.7" fill="#2f3c9c"/><circle cx="319.0" cy="38.2" r="1.7" fill="#2f3c9c"/><circle cx="317.7" cy="40.3" r="1.7" fill="#2f3c9c"/><circle cx="318.0" cy="42.8" r="1.7" fill="#2f3c9c"/><circle cx="316.4" cy="44.9" r="1.7" fill="#2f3c9c"/><circle cx="316.8" cy="49.0" r="1.7" fill="#2f3c9c"/><circle cx="315.2" cy="51.4" r="1.7" fill="#2f3c9c"/><circle cx="315.5" cy="54.3" r="1.7" fill="#2f3c9c"/><circle cx="313.8" cy="55.9" r="1.7" fill="#2f3c9c"/><circle cx="314.0" cy="58.2" r="1.7" fill="#2f3c9c"/><circle cx="311.7" cy="61.3" r="1.7" fill="#2f3c9c"/><circle cx="319.4" cy="30.0" r="1.7" fill="#2f3c9c"/><circle cx="322.3" cy="30.2" r="1.7" fill="#2f3c9c"/><circle cx="324.0" cy="32.6" r="1.7" fill="#2f3c9c"/><circle cx="317.9" cy="51.1" r="1.7" fill="#2f3c9c"/><circle cx="318.9" cy="53.2" r="1.7" fill="#2f3c9c"/><circle cx="321.3" cy="54.0" r="1.7" fill="#2f3c9c"/><circle cx="320.9" cy="56.2" r="1.7" fill="#2f3c9c"/><circle cx="322.5" cy="58.2" r="1.7" fill="#2f3c9c"/><circle cx="320.8" cy="60.6" r="1.7" fill="#2f3c9c"/><circle cx="314.1" cy="60.4" r="1.7" fill="#2f3c9c"/><circle cx="315.0" cy="63.9" r="1.7" fill="#2f3c9c"/><circle cx="304.4" cy="57.3" r="1.7" fill="#2f3c9c"/><circle cx="304.0" cy="61.4" r="1.7" fill="#2f3c9c"/><circle cx="305.7" cy="65.1" r="1.7" fill="#2f3c9c"/><circle cx="305.0" cy="67.6" r="1.7" fill="#2f3c9c"/><circle cx="306.3" cy="69.7" r="1.7" fill="#2f3c9c"/><circle cx="305.7" cy="72.1" r="1.7" fill="#2f3c9c"/><circle cx="307.0" cy="74.2" r="1.7" fill="#2f3c9c"/><circle cx="306.7" cy="76.7" r="1.7" fill="#2f3c9c"/><circle cx="308.3" cy="78.8" r="1.7" fill="#2f3c9c"/><circle cx="307.9" cy="81.0" r="1.7" fill="#2f3c9c"/><circle cx="309.5" cy="82.7" r="1.7" fill="#2f3c9c"/><circle cx="309.2" cy="86.8" r="1.7" fill="#2f3c9c"/><circle cx="310.4" cy="90.6" r="1.7" fill="#2f3c9c"/><circle cx="309.0" cy="82.3" r="1.7" fill="#2f3c9c"/><circle cx="312.2" cy="83.3" r="1.7" fill="#2f3c9c"/><circle cx="316.1" cy="83.3" r="1.7" fill="#2f3c9c"/><circle cx="316.3" cy="86.7" r="1.7" fill="#2f3c9c"/><circle cx="308.0" cy="92.9" r="1.7" fill="#2f3c9c"/><circle cx="310.1" cy="91.0" r="1.7" fill="#2f3c9c"/><circle cx="312.3" cy="91.5" r="1.7" fill="#2f3c9c"/><circle cx="313.6" cy="93.2" r="1.7" fill="#2f3c9c"/><circle cx="348.6" cy="20.0" r="1.7" fill="#2f3c9c"/><circle cx="344.8" cy="21.0" r="1.7" fill="#2f3c9c"/><circle cx="344.8" cy="24.4" r="1.7" fill="#2f3c9c"/><circle cx="343.7" cy="27.4" r="1.7" fill="#2f3c9c"/><circle cx="340.2" cy="28.4" r="1.7" fill="#2f3c9c"/><circle cx="343.7" cy="27.4" r="1.7" fill="#2f3c9c"/><circle cx="347.0" cy="27.9" r="1.7" fill="#2f3c9c"/><circle cx="350.1" cy="26.1" r="1.7" fill="#2f3c9c"/><circle cx="352.3" cy="24.7" r="1.7" fill="#2f3c9c"/><circle cx="355.1" cy="22.2" r="1.7" fill="#2f3c9c"/><circle cx="352.5" cy="24.1" r="1.7" fill="#2f3c9c"/><circle cx="352.7" cy="27.3" r="1.7" fill="#2f3c9c"/><circle cx="354.6" cy="28.4" r="1.7" fill="#2f3c9c"/><circle cx="348.8" cy="23.9" r="1.7" fill="#2f3c9c"/><circle cx="350.5" cy="26.4" r="1.7" fill="#2f3c9c"/><circle cx="359.7" cy="36.6" r="1.7" fill="#2f3c9c"/><circle cx="356.2" cy="38.6" r="1.7" fill="#2f3c9c"/><circle cx="355.5" cy="42.6" r="1.7" fill="#2f3c9c"/><circle cx="353.7" cy="44.0" r="1.7" fill="#2f3c9c"/><circle cx="353.5" cy="46.3" r="1.7" fill="#2f3c9c"/><circle cx="350.1" cy="48.8" r="1.7" fill="#2f3c9c"/><circle cx="349.9" cy="51.2" r="1.7" fill="#2f3c9c"/><circle cx="348.0" cy="52.4" r="1.7" fill="#2f3c9c"/><circle cx="347.5" cy="54.8" r="1.7" fill="#2f3c9c"/><circle cx="345.4" cy="56.0" r="1.7" fill="#2f3c9c"/><circle cx="345.0" cy="58.4" r="1.7" fill="#2f3c9c"/><circle cx="342.9" cy="59.6" r="1.7" fill="#2f3c9c"/><circle cx="340.9" cy="63.4" r="1.7" fill="#2f3c9c"/><circle cx="337.6" cy="64.6" r="1.7" fill="#2f3c9c"/><circle cx="341.2" cy="62.9" r="1.7" fill="#2f3c9c"/><circle cx="340.7" cy="66.8" r="1.7" fill="#2f3c9c"/><circle cx="341.7" cy="69.2" r="1.7" fill="#2f3c9c"/><circle cx="343.1" cy="59.4" r="1.7" fill="#2f3c9c"/><circle cx="345.5" cy="59.6" r="1.7" fill="#2f3c9c"/><circle cx="347.4" cy="58.4" r="1.7" fill="#2f3c9c"/><circle cx="346.2" cy="61.6" r="1.7" fill="#2f3c9c"/><circle cx="348.8" cy="64.9" r="1.7" fill="#2f3c9c"/><circle cx="350.5" cy="62.0" r="1.7" fill="#2f3c9c"/><circle cx="386.0" cy="39.5" r="1.7" fill="#2f3c9c"/><circle cx="386.7" cy="42.7" r="1.7" fill="#2f3c9c"/><circle cx="388.8" cy="45.5" r="1.7" fill="#2f3c9c"/><circle cx="386.5" cy="45.0" r="1.7" fill="#2f3c9c"/><circle cx="384.9" cy="46.4" r="1.7" fill="#2f3c9c"/><circle cx="381.0" cy="47.9" r="1.7" fill="#2f3c9c"/><circle cx="381.0" cy="51.4" r="1.7" fill="#2f3c9c"/><circle cx="379.0" cy="53.6" r="1.7" fill="#2f3c9c"/><circle cx="378.8" cy="56.5" r="1.7" fill="#2f3c9c"/><circle cx="376.9" cy="58.2" r="1.7" fill="#2f3c9c"/><circle cx="376.6" cy="60.9" r="1.7" fill="#2f3c9c"/><circle cx="373.3" cy="62.7" r="1.7" fill="#2f3c9c"/><circle cx="372.1" cy="66.3" r="1.7" fill="#2f3c9c"/><circle cx="369.7" cy="68.9" r="1.7" fill="#2f3c9c"/><circle cx="367.5" cy="72.3" r="1.7" fill="#2f3c9c"/><circle cx="378.8" cy="43.1" r="1.7" fill="#2f3c9c"/><circle cx="376.9" cy="44.7" r="1.7" fill="#2f3c9c"/><circle cx="376.4" cy="46.5" r="1.7" fill="#2f3c9c"/><circle cx="378.8" cy="48.0" r="1.7" fill="#2f3c9c"/><circle cx="381.5" cy="48.1" r="1.7" fill="#2f3c9c"/><g transform="translate(334.5 35.9) rotate(112) scale(1.0)"><use href="#cylA"/></g><g transform="translate(366 52.2) rotate(205) scale(1.0)"><use href="#cylA"/></g><g transform="translate(324 69.8) rotate(42) scale(1.0)"><use href="#cylA"/></g><circle cx="552.2" cy="20.6" r="20.1" fill="#fff" stroke="#666" stroke-width="0.75"/><circle cx="616.4" cy="20.2" r="20.3" fill="#fff" stroke="#666" stroke-width="0.75"/><path d="M539 19.7 L545.4 13.4 L548.5 8.4" stroke="#2b3a96" stroke-width="0.9" fill="none" stroke-dasharray="1.0 0.45" stroke-linecap="round" stroke-linejoin="round"/><path d="M544.7 8.7 L546 6.3 L549 6.7 L550.4 8.4" stroke="#2b3a96" stroke-width="0.9" fill="none" stroke-dasharray="1.0 0.45" stroke-linecap="round" stroke-linejoin="round"/><path d="M546.4 10 L549.5 10" stroke="#2b3a96" stroke-width="0.9" fill="none" stroke-dasharray="1.0 0.45" stroke-linecap="round" stroke-linejoin="round"/><path d="M559.7 4 L555 10 L553 13.4 L551 16.7" stroke="#2b3a96" stroke-width="0.9" fill="none" stroke-dasharray="1.0 0.45" stroke-linecap="round" stroke-linejoin="round"/><path d="M549.4 16.4 L555 16" stroke="#2b3a96" stroke-width="0.9" fill="none" stroke-dasharray="1.0 0.45" stroke-linecap="round" stroke-linejoin="round"/><path d="M554 17 L555 19" stroke="#2b3a96" stroke-width="0.9" fill="none" stroke-dasharray="1.0 0.45" stroke-linecap="round" stroke-linejoin="round"/><path d="M569.4 14 L561 17.4 L557.7 18.7" stroke="#2b3a96" stroke-width="0.9" fill="none" stroke-dasharray="1.0 0.45" stroke-linecap="round" stroke-linejoin="round"/><path d="M554.4 19.4 L556 22 L558 21.4 L558.4 22.4" stroke="#2b3a96" stroke-width="0.9" fill="none" stroke-dasharray="1.0 0.45" stroke-linecap="round" stroke-linejoin="round"/><path d="M557.7 18.7 L558 21" stroke="#2b3a96" stroke-width="0.9" fill="none" stroke-dasharray="1.0 0.45" stroke-linecap="round" stroke-linejoin="round"/><path d="M534.3 23 L543 28 L546.4 29.4" stroke="#2b3a96" stroke-width="0.9" fill="none" stroke-dasharray="1.0 0.45" stroke-linecap="round" stroke-linejoin="round"/><path d="M544 28 L545.4 27.4 L549 31 L547 32.7" stroke="#2b3a96" stroke-width="0.9" fill="none" stroke-dasharray="1.0 0.45" stroke-linecap="round" stroke-linejoin="round"/><path d="M545 31 L548 29" stroke="#2b3a96" stroke-width="0.9" fill="none" stroke-dasharray="1.0 0.45" stroke-linecap="round" stroke-linejoin="round"/><path d="M550.4 20.7 L551 25 L551.7 30 L553 33" stroke="#2b3a96" stroke-width="0.9" fill="none" stroke-dasharray="1.0 0.45" stroke-linecap="round" stroke-linejoin="round"/><path d="M552.4 33 L554.4 33.4 L556 35 L553.4 37.4 L555 38" stroke="#2b3a96" stroke-width="0.9" fill="none" stroke-dasharray="1.0 0.45" stroke-linecap="round" stroke-linejoin="round"/><path d="M569 23.4 L563 28 L558.4 36.7" stroke="#2b3a96" stroke-width="0.9" fill="none" stroke-dasharray="1.0 0.45" stroke-linecap="round" stroke-linejoin="round"/><path d="M563 23.4 L566 22.4 L568.4 24.7 L565 25.4" stroke="#2b3a96" stroke-width="0.9" fill="none" stroke-dasharray="1.0 0.45" stroke-linecap="round" stroke-linejoin="round"/><path d="M563.7 27 L566 28" stroke="#2b3a96" stroke-width="0.9" fill="none" stroke-dasharray="1.0 0.45" stroke-linecap="round" stroke-linejoin="round"/><g transform="translate(604.9 14.6) rotate(20)"><g stroke="#f0b050" stroke-width="0.5"><path d="M-3.8 0H3.8M0 -3.8V3.8M-2.7 -2.7L2.7 2.7M-2.7 2.7L2.7 -2.7"/></g><rect x="-2.4" y="-2.2" width="4.8" height="4.4" rx="1.2" fill="#5d9ccb"/><ellipse cx="0.3" cy="-0.6" rx="1.5" ry="1.1" fill="#a8cbe4"/></g><g transform="translate(614.9 9.5) rotate(20)"><g stroke="#f0b050" stroke-width="0.5"><path d="M-3.8 0H3.8M0 -3.8V3.8M-2.7 -2.7L2.7 2.7M-2.7 2.7L2.7 -2.7"/></g><rect x="-2.4" y="-2.2" width="4.8" height="4.4" rx="1.2" fill="#5d9ccb"/><ellipse cx="0.3" cy="-0.6" rx="1.5" ry="1.1" fill="#a8cbe4"/></g><g transform="translate(627.8 17.5) rotate(20)"><g stroke="#f0b050" stroke-width="0.5"><path d="M-3.8 0H3.8M0 -3.8V3.8M-2.7 -2.7L2.7 2.7M-2.7 2.7L2.7 -2.7"/></g><rect x="-2.4" y="-2.2" width="4.8" height="4.4" rx="1.2" fill="#5d9ccb"/><ellipse cx="0.3" cy="-0.6" rx="1.5" ry="1.1" fill="#a8cbe4"/></g><g transform="translate(614.9 21.1) rotate(20)"><g stroke="#f0b050" stroke-width="0.5"><path d="M-3.8 0H3.8M0 -3.8V3.8M-2.7 -2.7L2.7 2.7M-2.7 2.7L2.7 -2.7"/></g><rect x="-2.4" y="-2.2" width="4.8" height="4.4" rx="1.2" fill="#5d9ccb"/><ellipse cx="0.3" cy="-0.6" rx="1.5" ry="1.1" fill="#a8cbe4"/></g><g transform="translate(609.5 32) rotate(20)"><g stroke="#f0b050" stroke-width="0.5"><path d="M-3.8 0H3.8M0 -3.8V3.8M-2.7 -2.7L2.7 2.7M-2.7 2.7L2.7 -2.7"/></g><rect x="-2.4" y="-2.2" width="4.8" height="4.4" rx="1.2" fill="#5d9ccb"/><ellipse cx="0.3" cy="-0.6" rx="1.5" ry="1.1" fill="#a8cbe4"/></g><g transform="translate(623.7 32.4) rotate(20)"><g stroke="#f0b050" stroke-width="0.5"><path d="M-3.8 0H3.8M0 -3.8V3.8M-2.7 -2.7L2.7 2.7M-2.7 2.7L2.7 -2.7"/></g><rect x="-2.4" y="-2.2" width="4.8" height="4.4" rx="1.2" fill="#5d9ccb"/><ellipse cx="0.3" cy="-0.6" rx="1.5" ry="1.1" fill="#a8cbe4"/></g><path d="M642.3 79.3 C645 77.5 648 75.5 650 73 C652.5 70 653.6 66 652.6 61.5 C651.5 57 648 54 646.2 50.5 C644.6 47 644.8 43.6 647 41.3 C648.8 39.4 651 38.2 652.7 37.6" fill="none" stroke="#333" stroke-width="2.1"/><path d="M642.3 79.3 C645 77.5 648 75.5 650 73 C652.5 70 653.6 66 652.6 61.5 C651.5 57 648 54 646.2 50.5 C644.6 47 644.8 43.6 647 41.3 C648.8 39.4 651 38.2 652.7 37.6" fill="none" stroke="#fff" stroke-width="0.7"/><path d="M572.5 68 C573.5 67 575 66.5 576 66.3 C579 63 581 61 583.3 59.3 C586 57 589 55.5 592 54.6 C594 54.1 596 53.9 597.3 53.8 C597.5 51.5 599 48.6 602 48.3 C604.5 48.1 606.5 49 606.8 50.6 C609 50.8 611.5 52 613.3 54.5 C614 56.5 613.3 58.5 612.7 60.4 C614 60.9 615 61 616 61 C622 61 630 62.5 635.4 65.7 C640 69 642.8 74 642.8 78.3 C642.8 82 641.5 86.5 639.6 88.8 C637.5 91 635 91.9 633.3 92 L620.7 92.4 L609.7 92.4 C609 92 608.9 90.6 609.4 90.2 C610.5 89.6 613 89.6 616 89.5 L608.1 81.4 L606.4 84.5 C605.5 87.5 604.8 89 604 90 C603 91.3 601.9 91.6 600 91.6 L598.2 91.5 C597.2 91.2 597.2 90.2 598 89.8 C600 88.8 601.9 87.4 602.6 85.5 C603.3 83 603.5 80 603 78 C602.5 76.5 601.5 75.4 600 74.5 C597 73.3 594 72.6 590 72.4 C586 72.3 582.9 72.1 580 71 C577.5 70.2 575 69.5 573.5 69.2 C572.6 69 572.3 68.5 572.5 68 Z" fill="#fff" stroke="#222" stroke-width="0.75" stroke-linejoin="round"/><path d="M597.3 53.8 C598.5 54.8 600 55.4 601.2 55.2 C603 54.8 605 52.5 606.8 50.6" fill="none" stroke="#222" stroke-width="0.7"/><line x1="548.2" y1="40" x2="606.4" y2="71.3" stroke="#333" stroke-width="0.55"/><line x1="572.6" y1="22.8" x2="606.4" y2="71.3" stroke="#333" stroke-width="0.55"/><line x1="602.2" y1="35.5" x2="606.4" y2="71.3" stroke="#333" stroke-width="0.55"/><line x1="631.6" y1="34.2" x2="606.4" y2="71.3" stroke="#333" stroke-width="0.55"/><path d="M588.6 61.2 L591.4 61.7 L589.8 62.8 Z" fill="#222"/><g stroke="#aaa" stroke-width="0.4" fill="none"><path d="M574.5 66.5 L567 62.5"/><path d="M575 66 L569 60.5"/><path d="M575.5 65.8 L572 59.5"/><path d="M577 71 L576.5 75"/><path d="M578.5 71.5 L579.5 75.5"/><path d="M580.5 71.8 L582.5 75.5"/><path d="M576 71 L574 74"/></g><g transform="translate(537 76.6) rotate(7)"><path d="M0.3 -3 L0.3 3.2 M1.6 -3 L1.6 3.2" stroke="#111" stroke-width="1"/><path d="M5 -3.2 L5 4 M6.3 -3.2 L6.3 4" stroke="#111" stroke-width="1"/><path d="M0.3 0 L6 0" stroke="#111" stroke-width="0.8"/><rect x="6.5" y="-2.4" width="12" height="5.4" fill="#fff" stroke="#111" stroke-width="1"/><path d="M11 0.6V2.8M12.7 0.6V2.8M14.6 0.6V2.8M16.4 0.6V2.8" stroke="#111" stroke-width="0.7"/><path d="M18.2 -2.5 L21 -2.5 C22.8 -2.2 23.6 -0.8 23.6 0.4 C23.6 1.6 22.8 3 21 3.2 L18.2 3.2 Z" fill="#000"/><path d="M23.4 -0.6 L26 0.3 L23.4 1.4 Z" fill="#333"/></g><path d="M562.6 80.2 L568.5 81 L576.2 75.8" fill="none" stroke="#222" stroke-width="0.75"/><text x="575" y="48.4" font-size="8.2" text-anchor="middle" fill="#444">i.n.</text><text x="615" y="48.4" font-size="8.2" text-anchor="middle" fill="#444">i.t.</text>
</svg></body></html>
